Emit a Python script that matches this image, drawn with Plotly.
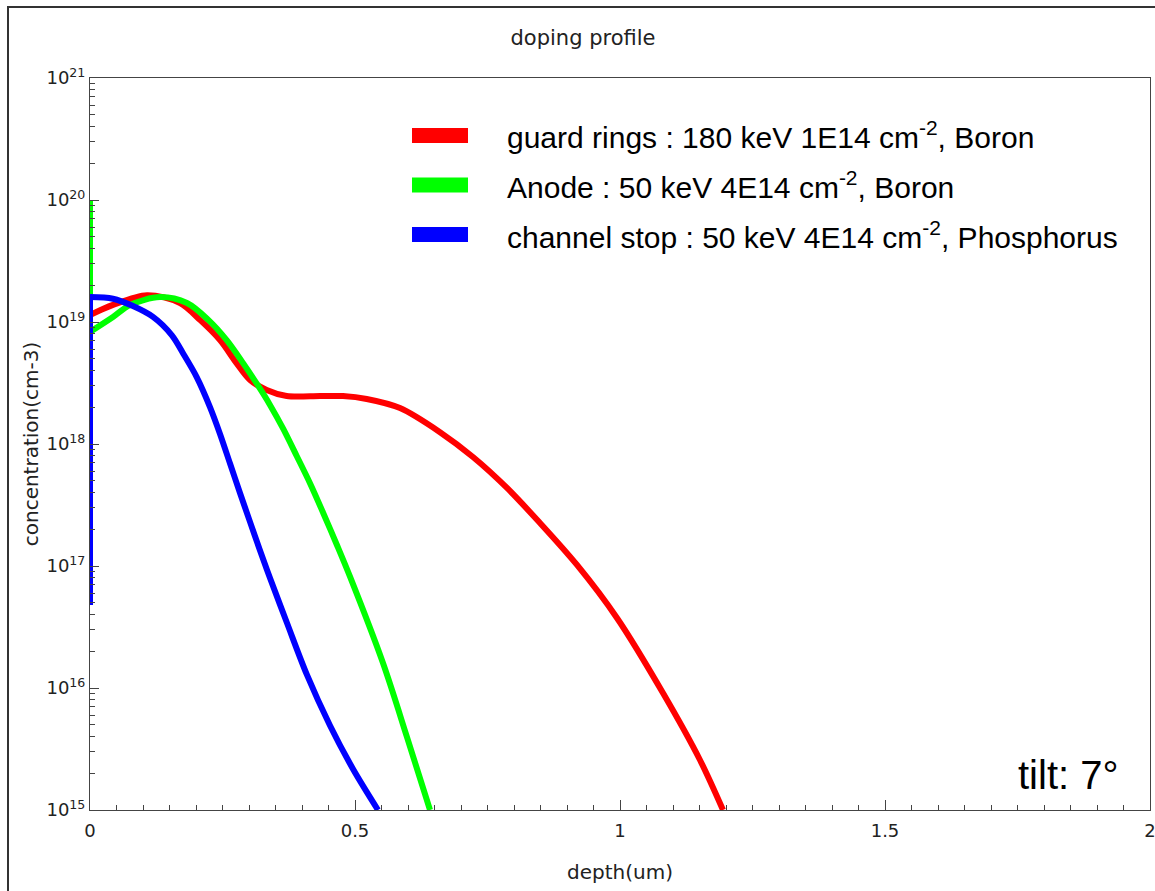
import plotly.graph_objects as go

# Implant depth profiles (depth in um, concentration in cm^-3).
# Where a depth of 0 repeats, the first value is the surface spike.
guard_depth = [0.0, 0.0434, 0.1075, 0.1698, 0.2075, 0.2453, 0.2768, 0.3019, 0.3334, 0.3711,
               0.434, 0.4774, 0.5221, 0.5849, 0.6604, 0.7226, 0.7868, 0.8491, 0.9189, 0.9943,
               1.0811, 1.1509, 1.1943]
guard_conc = [1.14e19, 1.38e19, 1.66e19, 1.43e19, 1.04e19, 7.1e18, 4.58e18, 3.35e18, 2.77e18,
              2.47e18, 2.47e18, 2.47e18, 2.34e18, 1.97e18, 1.25e18, 7.82e17, 4.36e17, 2.25e17,
              1.02e17, 3.75e16, 9.1e15, 2.57e15, 1.0e15]

anode_depth = [0.0, 0.0, 0.0434, 0.0755, 0.1321, 0.183, 0.2232, 0.2579, 0.2892, 0.3175,
               0.3396, 0.3647, 0.39, 0.4151, 0.4402, 0.4655, 0.4906, 0.5528, 0.5981, 0.6415]
anode_conc = [1.0e20, 8.3e18, 1.1e19, 1.38e19, 1.6e19, 1.43e19, 1.04e19, 7.1e18, 4.58e18,
              2.99e18, 2.09e18, 1.33e18, 7.98e17, 4.77e17, 2.71e17, 1.5e17, 8.17e16, 1.6e16,
              3.96e15, 1.0e15]

stop_depth = [0.0, 0.0, 0.0434, 0.0811, 0.1189, 0.1542, 0.176, 0.2013, 0.2264, 0.2453, 0.2642,
              0.283, 0.3019, 0.3208, 0.3396, 0.3717, 0.4094, 0.4528, 0.4962, 0.5434]
stop_conc = [4.8e16, 1.6e19, 1.55e19, 1.35e19, 1.1e19, 7.8e18, 5.5e18, 3.54e18, 2.01e18,
             1.21e18, 6.92e17, 3.96e17, 2.3e17, 1.34e17, 7.98e16, 3.41e16, 1.28e16, 4.93e15,
             2.17e15, 1.0e15]

series_names = [
    "guard rings : 180 keV 1E14 cm<sup>-2</sup>, Boron",
    "Anode : 50 keV 4E14 cm<sup>-2</sup>, Boron",
    "channel stop : 50 keV 4E14 cm<sup>-2</sup>, Phosphorus",
]
series_colors = ["#ff0000", "#00ff00", "#0000ff"]

x_ticks = [0, 0.5, 1, 1.5, 2]
x_ticktext = ["0", "0.5", "1", "1.5", "2"]
y_exponents = [15, 16, 17, 18, 19, 20, 21]

W, H = 1155, 891
ML, MR, MT, MB = 90, 5, 78, 81
PW, PH = W - ML - MR, H - MT - MB


def px_x(px):
    return (px - ML) / PW


def px_y(py):
    return (H - MB - py) / PH


fig = go.Figure()
for xs, ys, name, col in zip([guard_depth, anode_depth, stop_depth],
                             [guard_conc, anode_conc, stop_conc],
                             series_names, series_colors):
    # surface segment (repeated zero depth) drawn straight, profile drawn smooth
    n0 = 0
    while n0 + 1 < len(xs) and xs[n0 + 1] == xs[0]:
        n0 += 1
    if n0 > 0:
        fig.add_trace(go.Scatter(x=xs[:n0 + 1], y=ys[:n0 + 1], mode="lines", showlegend=False,
                                 name=name, line=dict(color=col, width=6)))
    fig.add_trace(go.Scatter(x=xs[n0:], y=ys[n0:], mode="lines", name=name, showlegend=False,
                             line=dict(color=col, width=6, shape="spline", smoothing=0.9)))

tick_font = dict(family="DejaVu Sans", size=18, color="#222")
minor_y = [m * 10.0 ** e for e in y_exponents[:-1] for m in range(2, 10)]

fig.update_xaxes(
    range=[0, 2], tickvals=x_ticks, ticktext=x_ticktext, tickfont=tick_font,
    ticks="inside", ticklen=10, tickcolor="#444", tickwidth=1,
    minor=dict(dtick=0.05, ticks="inside", ticklen=5, tickcolor="#444"),
    showline=True, linecolor="#444", linewidth=1, mirror=True,
    showgrid=False, zeroline=False, ticklabelstandoff=4, ticklabeloverflow="allow",
    automargin=False,
    title=dict(text="depth(um)", font=dict(family="DejaVu Sans", size=20, color="#222"),
               standoff=25),
)
fig.update_yaxes(
    type="log", range=[15, 21],
    tickvals=[10.0 ** e for e in y_exponents],
    ticktext=[f"10<sup>{e}</sup>" for e in y_exponents], tickfont=tick_font,
    ticks="inside", ticklen=9, tickcolor="#444", tickwidth=1,
    minor=dict(tickvals=minor_y, ticks="inside", ticklen=5, tickcolor="#444"),
    showline=True, linecolor="#444", linewidth=1, mirror=True,
    showgrid=False, zeroline=False, ticklabelstandoff=0, automargin=False,
    title=dict(text="concentration(cm-3)", font=dict(family="DejaVu Sans", size=20, color="#222"),
               standoff=2),
)

shapes = [dict(type="rect", xref="paper", yref="paper",
               x0=px_x(8), x1=px_x(1175), y0=px_y(905), y1=px_y(7),
               line=dict(color="#333", width=2), fillcolor="rgba(0,0,0,0)", layer="below")]
annotations = []
for i, (name, col) in enumerate(zip(series_names, series_colors)):
    cy = 135.5 + i * 49.5
    shapes.append(dict(type="rect", xref="paper", yref="paper",
                       x0=px_x(412), x1=px_x(468), y0=px_y(cy + 7.5), y1=px_y(cy - 7.5),
                       line=dict(width=0), fillcolor=col))
    annotations.append(dict(text=name, xref="paper", yref="paper", x=px_x(505), y=px_y(cy),
                            xanchor="left", yanchor="middle", showarrow=False,
                            font=dict(family="Liberation Sans", size=30, color="black")))
annotations.append(dict(text="tilt: 7°", xref="paper", yref="paper", x=px_x(1120), y=px_y(775),
                        xanchor="right", yanchor="middle", showarrow=False,
                        font=dict(family="Liberation Sans", size=40, color="black")))

fig.update_layout(
    width=W, height=H, autosize=False,
    margin=dict(l=ML, r=MR, t=MT, b=MB),
    paper_bgcolor="white", plot_bgcolor="white",
    title=dict(text="doping profile", x=583 / W, xanchor="center", y=1 - 38 / H, yanchor="middle",
               yref="container", font=dict(family="DejaVu Sans", size=21, color="#222")),
    shapes=shapes, annotations=annotations,
)

fig.write_html("out.html")
